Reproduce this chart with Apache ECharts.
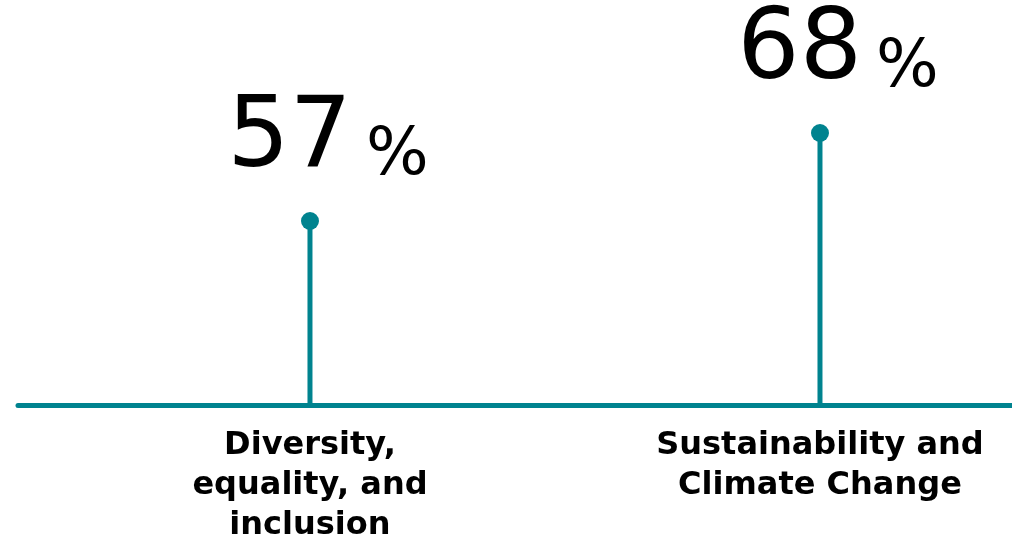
<!DOCTYPE html>
<html>
<head>
<meta charset="utf-8">
<script src="https://cdn.jsdelivr.net/npm/echarts@6/dist/echarts.min.js"></script>
<style>
html,body{margin:0;padding:0;background:#fff;}
#chart{width:1012px;height:541px;}
</style>
</head>
<body>
<div id="chart"></div>
<script>
var categories = ["Diversity,\nequality, and\ninclusion", "Sustainability and\nClimate Change"];
var values = [57, 68];

var teal = '#00838F';
var positions = categories.map(function (c, i) { return i; });
var pointData = values.map(function (v, i) { return [positions[i], v]; });

var chart = echarts.init(document.getElementById('chart'));
chart.setOption({
  backgroundColor: '#ffffff',
  animation: false,
  grid: { left: 18, right: 0, top: 5, bottom: 136, containLabel: false, outerBoundsMode: 'none' },
  xAxis: {
    type: 'value',
    min: -0.5725,
    max: 1.3765,
    splitLine: { show: false },
    axisLine: { show: true, lineStyle: { color: teal, width: 5 } },
    axisTick: { show: false },
    axisLabel: {
      show: true,
      customValues: positions,
      formatter: function (v) { return categories[Math.round(v)]; },
      margin: 21,
      color: '#000',
      fontFamily: 'DejaVu Sans',
      fontWeight: 'bold',
      fontSize: 32,
      lineHeight: 40,
      align: 'center'
    }
  },
  yAxis: {
    type: 'value',
    min: 34,
    max: 84,
    show: false
  },
  series: [
    {
      type: 'bar',
      data: pointData,
      barWidth: 5,
      itemStyle: { color: teal },
      silent: true
    },
    {
      type: 'scatter',
      data: pointData,
      symbol: 'circle',
      symbolSize: 18,
      itemStyle: { color: teal, opacity: 1 },
      label: {
        show: true,
        position: 'top',
        distance: 22,
        offset: [18, 0],
        color: '#000',
        formatter: function (p) { return '{n|' + p.value[1] + '}{p|%}'; },
        rich: {
          n: { fontFamily: 'DejaVu Sans', fontSize: 98, color: '#000', verticalAlign: 'bottom', lineHeight: 98 },
          p: { fontFamily: 'DejaVu Sans', fontSize: 66, color: '#000', verticalAlign: 'bottom', lineHeight: 66, padding: [0, 0, 0, 14] }
        }
      }
    }
  ]
});
</script>
</body>
</html>
